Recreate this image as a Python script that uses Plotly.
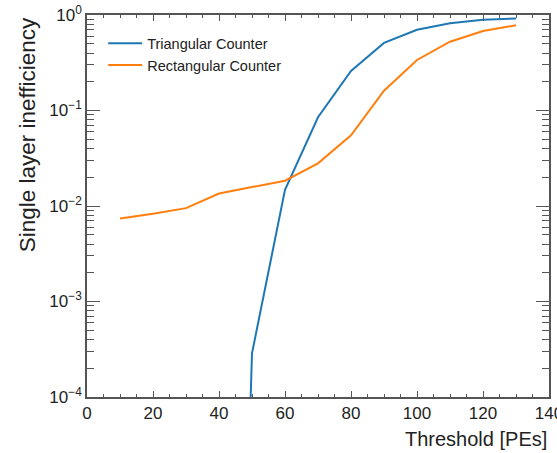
import plotly.graph_objects as go

thresholds = [10, 20, 30, 40, 50, 60, 70, 80, 90, 100, 110, 120, 130]
# Triangular counter: zero inefficiency below 50 PEs (off the log scale)
triangular = [0, 0, 0, 0, 2.87e-4, 0.0148, 0.085, 0.26, 0.51, 0.70, 0.82, 0.89, 0.92]
rectangular = [0.0074, 0.0083, 0.0095, 0.0135, 0.0158, 0.0184, 0.028, 0.055, 0.161, 0.338, 0.525, 0.68, 0.78]

ytick_vals = [1e-4, 1e-3, 1e-2, 1e-1, 1]
ytick_text = ["10<sup>\u22124</sup>", "10<sup>\u22123</sup>", "10<sup>\u22122</sup>",
              "10<sup>\u22121</sup>", "10<sup>0</sup>"]
xtick_vals = [0, 20, 40, 60, 80, 100, 120, 140]

FLOOR = 1e-15  # zero values drawn below the visible log range
tri_plot = [v if v > 0 else FLOOR for v in triangular]

# minor log ticks 2..9 within each decade
yminor = [m * d for d in ytick_vals[:-1] for m in range(2, 10)]

fig = go.Figure()
fig.add_trace(go.Scatter(x=thresholds, y=tri_plot, mode="lines",
                         name="Triangular Counter",
                         line=dict(color="#1f77b4", width=2)))
fig.add_trace(go.Scatter(x=thresholds, y=rectangular, mode="lines",
                         name="Rectangular Counter",
                         line=dict(color="#ff7f0e", width=2)))

axcol = "#555555"
font = "Liberation Sans, Arial, Helvetica, sans-serif"

fig.update_layout(
    width=557, height=453,
    margin=dict(l=87, r=8, t=15, b=56),
    paper_bgcolor="white", plot_bgcolor="white",
    font=dict(family=font, color="#222222"),
    showlegend=True,
    legend=dict(x=0.035, y=0.968, xanchor="left", yanchor="top",
                bgcolor="rgba(0,0,0,0)", font=dict(size=14.5, color="#222222"),
                itemwidth=34, tracegroupgap=0),
    xaxis=dict(range=[0, 140], tickvals=xtick_vals, ticks="inside", ticklen=6,
               tickcolor=axcol, showline=True, linecolor=axcol, linewidth=1.5,
               mirror="allticks", showgrid=False, zeroline=False,
               ticklabeloverflow="allow", automargin=False,
               tickfont=dict(size=17, color="#222222"),
               minor=dict(dtick=5, tick0=0, ticks="inside", ticklen=3, tickcolor=axcol, showgrid=False)),
    yaxis=dict(type="log", range=[-4, 0], tickvals=ytick_vals, ticktext=ytick_text,
               ticks="inside", ticklen=13, tickcolor=axcol, showline=True,
               linecolor=axcol, linewidth=1.5, mirror="allticks", showgrid=False,
               zeroline=False, automargin=False, tickfont=dict(size=17, color="#222222"),
               minor=dict(tickvals=yminor, ticks="inside", ticklen=7, tickcolor=axcol, showgrid=False)),
    annotations=[
        dict(text="Threshold [PEs]", xref="paper", yref="paper", x=1.0, y=-0.075,
             xanchor="right", yanchor="top", showarrow=False,
             font=dict(size=20, color="#222222")),
        dict(text="Single layer inefficiency", xref="paper", yref="paper",
             x=-0.128, y=1.0, xanchor="center", yanchor="top", textangle=-90,
             showarrow=False, font=dict(size=22.5, color="#222222")),
    ],
)

fig.write_html("out.html")
